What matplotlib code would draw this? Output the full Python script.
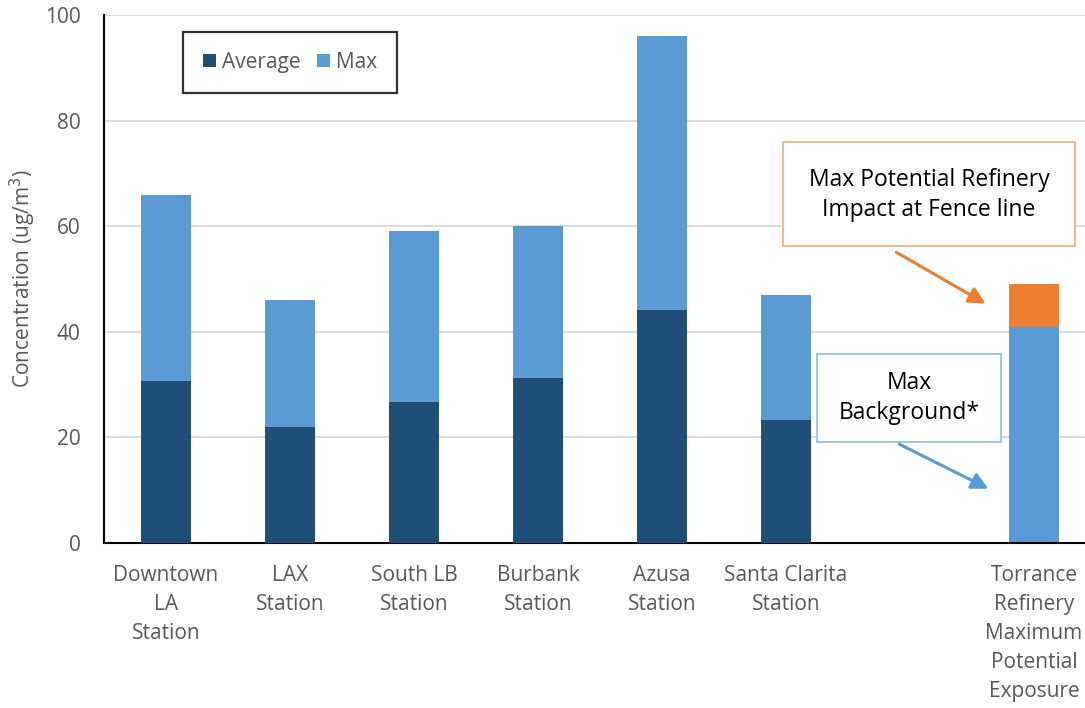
import matplotlib
matplotlib.use("Agg")
import matplotlib.pyplot as plt
from matplotlib.patches import Rectangle
import numpy as np

categories = ["Downtown\nLA\nStation", "LAX\nStation", "South LB\nStation", "Burbank\nStation",
              "Azusa\nStation", "Santa Clarita\nStation", "", "Torrance\nRefinery\nMaximum\nPotential\nExposure"]
average = [30.6, 22.0, 26.7, 31.2, 44.1, 23.3, np.nan, np.nan]
maximum = [66.0, 46.0, 59.0, 60.0, 96.0, 47.0, np.nan, 41.0]
refinery_impact = [np.nan, np.nan, np.nan, np.nan, np.nan, np.nan, np.nan, 8.0]

DARK = "#1F4E79"
LIGHT = "#5B9BD5"
ORANGE = "#ED7D31"
GRAY = "#595959"

plt.rcParams['font.family'] = ['Open Sans', 'DejaVu Sans']

W, H = 1085, 708
fig = plt.figure(figsize=(W / 100, H / 100), dpi=100)
left, right, top, bottom = 104, 104 + 8 * 124, 15, 543
ax = fig.add_axes([left / W, 1 - bottom / H, (right - left) / W, (bottom - top) / H])

x = np.arange(len(categories))
bw = 0.4
ax.bar(x, maximum, width=bw, color=LIGHT, zorder=2, label="Max")
ax.bar(x, average, width=bw, color=DARK, zorder=3, label="Average")
ax.bar(x, refinery_impact, width=bw, bottom=maximum, color=ORANGE, zorder=3)

ax.set_xlim(-0.5, len(categories) - 0.5)
ax.set_ylim(0, 100)
ax.set_yticks(np.arange(0, 101, 20))
ax.yaxis.grid(True, color="#D9D9D9", linewidth=1.3, zorder=0)
ax.set_axisbelow(True)
for s in ["top", "right"]:
    ax.spines[s].set_visible(False)
ax.spines["left"].set_linewidth(1.5)
ax.spines["bottom"].set_linewidth(1.5)
ax.tick_params(axis="both", length=0, colors=GRAY, labelsize=15)
ax.tick_params(axis="y", pad=17)
ax.tick_params(axis="x", pad=16)
ax.set_xticks(x)
ax.set_xticklabels(categories, linespacing=1.5)

ax.set_ylabel("Concentration (ug/m$^3$)", fontsize=15, color=GRAY, labelpad=5)

handles, labels = ax.get_legend_handles_labels()
order = [1, 0]
leg = ax.legend([handles[i] for i in order], [labels[i] for i in order], ncol=2,
                loc="upper left", bbox_to_anchor=((183 - left) / (right - left), (543 - 32) / (543 - 15)),
                frameon=True, fancybox=False, fontsize=15, handlelength=0.62, handleheight=0.62,
                handletextpad=0.3, columnspacing=0.8, borderpad=0.95, borderaxespad=0,
                labelcolor=GRAY)
leg.get_frame().set_edgecolor("black")
leg.get_frame().set_linewidth(1.6)

def px2data(px, py):
    xd = -0.5 + (px - left) / 124.0
    yd = (bottom - py) / (bottom - top) * 100
    return xd, yd

def box(x0, y0, x1, y1, ec):
    (dx0, dy1), (dx1, dy0) = px2data(x0, y0), px2data(x1, y1)
    ax.add_patch(Rectangle((dx0, dy0), dx1 - dx0, dy1 - dy0, facecolor="white",
                           edgecolor=ec, linewidth=1.3, zorder=5))

# Orange annotation
box(783, 142, 1075, 246, "#F4B183")
bx, by = px2data(929, 195)
ax.text(bx, by, "Max Potential Refinery\nImpact at Fence line", ha="center", va="center",
        fontsize=16.5, color="black", linespacing=1.3, zorder=6)
ax.annotate("", xy=px2data(988, 305), xytext=px2data(894, 251),
            arrowprops=dict(arrowstyle="-|>,head_length=1.0,head_width=0.5", color=ORANGE, lw=2.2), zorder=6)

# Blue annotation
box(817, 354, 1001, 442, "#9DC3E6")
bx, by = px2data(909, 398)
ax.text(bx, by, "Max\nBackground*", ha="center", va="center",
        fontsize=16.5, color="black", linespacing=1.3, zorder=6)
ax.annotate("", xy=px2data(991, 490), xytext=px2data(897, 443),
            arrowprops=dict(arrowstyle="-|>,head_length=1.0,head_width=0.5", color=LIGHT, lw=2.2), zorder=6)

fig.savefig("out.png", dpi=100)
